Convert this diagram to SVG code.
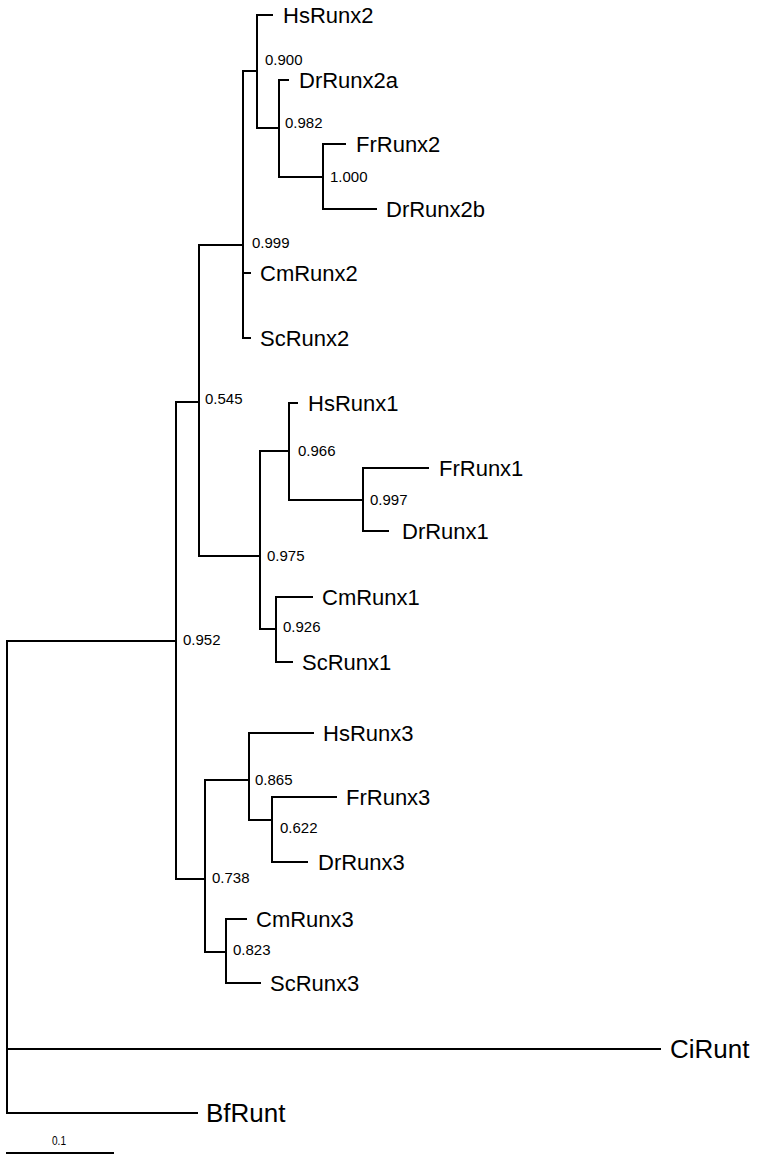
<svg xmlns="http://www.w3.org/2000/svg" width="758" height="1161" viewBox="0 0 758 1161">
<style>
.e{fill:none;stroke:#000;stroke-width:2;stroke-linecap:square}
.l{font-family:"Liberation Sans",Arial,sans-serif;font-size:22px;fill:#000}
.L{font-family:"Liberation Sans",Arial,sans-serif;font-size:26px;fill:#000}
.b{font-family:"Liberation Sans",Arial,sans-serif;font-size:15px;fill:#000}
.s{font-family:"Liberation Sans",Arial,sans-serif;font-size:12.5px;fill:#000}
</style>
<rect width="758" height="1161" fill="#fff"/>
<g id="connectors">
<path class="e" d="M7,641V1113"/>
<path class="e" d="M7,641H176M176,402V879"/>
<path class="e" d="M176,402H199M199,245V556"/>
<path class="e" d="M199,245H243M243,71V338"/>
<path class="e" d="M243,71H257M257,15V128"/>
<path class="e" d="M257,128H279M279,80V177"/>
<path class="e" d="M279,177H323M323,144V209"/>
<path class="e" d="M199,556H260M260,451V629"/>
<path class="e" d="M260,451H289M289,403V500"/>
<path class="e" d="M289,500H363M363,468V531"/>
<path class="e" d="M260,629H276M276,597V662"/>
<path class="e" d="M176,879H205M205,780V952"/>
<path class="e" d="M205,780H249M249,733V820"/>
<path class="e" d="M249,820H272M272,797V862"/>
<path class="e" d="M205,952H226M226,919V983"/>
<path class="e" d="M257,15H272"/>
<path class="e" d="M279,80H288"/>
<path class="e" d="M323,144H345"/>
<path class="e" d="M323,209H376"/>
<path class="e" d="M243,273H250"/>
<path class="e" d="M243,338H250"/>
<path class="e" d="M289,403H297"/>
<path class="e" d="M363,468H428"/>
<path class="e" d="M363,531H388"/>
<path class="e" d="M276,597H312"/>
<path class="e" d="M276,662H292"/>
<path class="e" d="M249,733H313"/>
<path class="e" d="M272,797H336"/>
<path class="e" d="M272,862H307"/>
<path class="e" d="M226,919H246"/>
<path class="e" d="M226,983H260"/>
<path class="e" d="M7,1049H660"/>
<path class="e" d="M7,1113H197"/>
</g>
<g id="n-HsRunx2"><text class="l" x="283" y="23">HsRunx2</text></g>
<g id="n-DrRunx2a"><text class="l" x="299" y="88">DrRunx2a</text></g>
<g id="n-FrRunx2"><text class="l" x="356" y="152">FrRunx2</text></g>
<g id="n-DrRunx2b"><text class="l" x="386" y="217">DrRunx2b</text></g>
<g id="n-CmRunx2"><text class="l" x="260" y="281">CmRunx2</text></g>
<g id="n-ScRunx2"><text class="l" x="260" y="346">ScRunx2</text></g>
<g id="n-HsRunx1"><text class="l" x="308" y="411">HsRunx1</text></g>
<g id="n-FrRunx1"><text class="l" x="439" y="476">FrRunx1</text></g>
<g id="n-DrRunx1"><text class="l" x="402" y="539">DrRunx1</text></g>
<g id="n-CmRunx1"><text class="l" x="322" y="605">CmRunx1</text></g>
<g id="n-ScRunx1"><text class="l" x="302" y="670">ScRunx1</text></g>
<g id="n-HsRunx3"><text class="l" x="323" y="741">HsRunx3</text></g>
<g id="n-FrRunx3"><text class="l" x="346" y="805">FrRunx3</text></g>
<g id="n-DrRunx3"><text class="l" x="318" y="870">DrRunx3</text></g>
<g id="n-CmRunx3"><text class="l" x="256" y="927">CmRunx3</text></g>
<g id="n-ScRunx3"><text class="l" x="270" y="991">ScRunx3</text></g>
<g id="n-CiRunt"><text class="L" x="670" y="1058">CiRunt</text></g>
<g id="n-BfRunt"><text class="L" x="206" y="1122">BfRunt</text></g>
<g id="n-0900"><text class="b" x="265" y="65">0.900</text></g>
<g id="n-0982"><text class="b" x="285" y="128">0.982</text></g>
<g id="n-1000"><text class="b" x="330" y="182">1.000</text></g>
<g id="n-0999"><text class="b" x="252" y="248">0.999</text></g>
<g id="n-0545"><text class="b" x="205" y="404">0.545</text></g>
<g id="n-0966"><text class="b" x="298" y="456">0.966</text></g>
<g id="n-0997"><text class="b" x="370" y="505">0.997</text></g>
<g id="n-0975"><text class="b" x="267" y="561">0.975</text></g>
<g id="n-0926"><text class="b" x="283" y="632">0.926</text></g>
<g id="n-0952"><text class="b" x="183" y="645">0.952</text></g>
<g id="n-0865"><text class="b" x="255" y="785">0.865</text></g>
<g id="n-0622"><text class="b" x="280" y="833">0.622</text></g>
<g id="n-0738"><text class="b" x="212" y="883">0.738</text></g>
<g id="n-0823"><text class="b" x="233" y="955">0.823</text></g>
<g id="scale">
<path class="e" d="M7,1153H113" stroke-width="1.5"/>
<text class="s" x="52" y="1145" textLength="14" lengthAdjust="spacingAndGlyphs">0.1</text>
</g>
</svg>
